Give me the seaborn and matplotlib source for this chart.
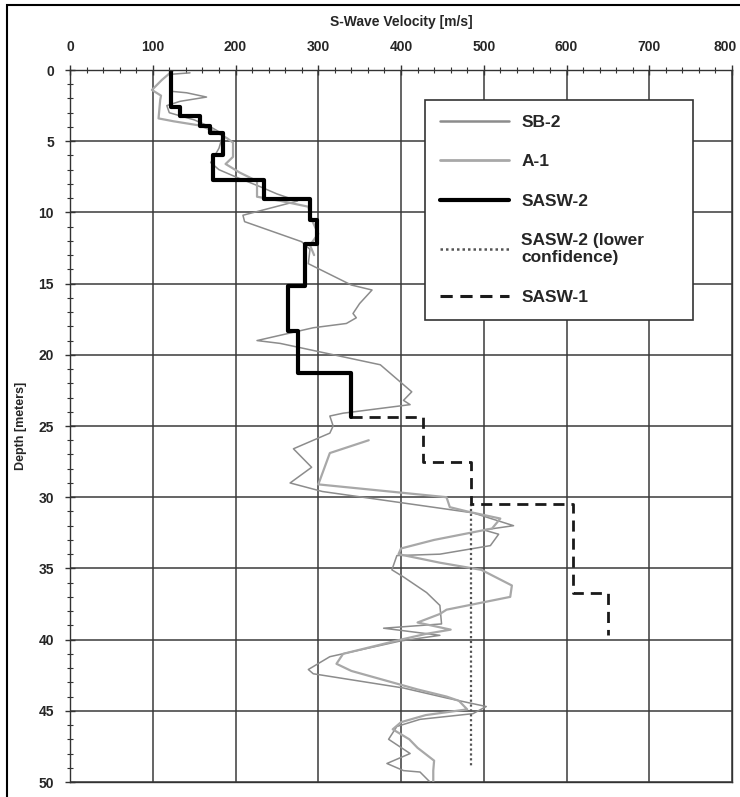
import matplotlib
matplotlib.use("Agg")
import matplotlib.pyplot as plt
from matplotlib.patches import Rectangle
from matplotlib.lines import Line2D
from matplotlib.ticker import MultipleLocator
from matplotlib.transforms import ScaledTranslation
import numpy as np
import pandas as pd
import seaborn as sns

# ---------------- data ----------------
# SB-2 profile (velocity m/s, depth m)
sb2_vel = [145, 122, 123, 141, 165, 133, 117, 120, 150, 170, 185, 180, 170, 180, 200, 230, 250, 275,
           209, 211, 280, 290, 288, 340, 365, 350, 342, 346, 334, 294, 226, 254, 375, 383, 413, 403, 411,
           330, 314, 318, 314, 270, 292, 266, 305, 487, 536, 500, 518, 508, 447, 395, 389, 403, 431,
           447, 449, 379, 447, 399, 314, 288, 294, 403, 455, 503, 487, 423, 395, 385, 411, 383, 403, 423, 435]
sb2_depth = [0.2, 0.3, 1.5, 1.6, 1.9, 2.2, 2.5, 3.0, 3.5, 4.0, 4.5, 5.5, 6.5, 7.0, 7.5, 8.2, 8.7, 9.2,
             10.2, 10.65, 12.06, 12.6, 13.6, 15.1, 15.45, 16.4, 17.1, 17.4, 17.8, 18.1, 19.0, 19.2, 20.7, 21.1, 22.6, 23.2, 23.5,
             24.1, 24.3, 25.0, 25.5, 26.6, 27.9, 29.0, 29.6, 31.1, 32.0, 32.3, 32.6, 33.4, 34.0, 34.1, 35.1, 35.6, 36.7,
             37.6, 38.9, 39.2, 39.7, 40.1, 41.2, 42.1, 42.4, 43.4, 44.1, 44.7, 45.2, 45.6, 46.1, 47.0, 48.0, 48.7, 49.2, 49.3, 50.0]

# A-1 profile, upper piece
a1_upper_vel = [125, 111, 99, 110, 109, 107, 125, 157, 175, 190, 197, 197, 188, 205, 226, 226, 255, 288, 292, 300, 290, 295]
a1_upper_depth = [0.0, 0.7, 1.4, 1.8, 2.1, 3.4, 3.6, 3.9, 4.3, 4.8, 5.1, 6.1, 6.6, 7.2, 7.8, 8.9, 9.2, 9.6, 10.5, 11.5, 12.3, 13.0]
# A-1 profile, lower piece
a1_lower_vel = [361, 314, 302, 300, 455, 459, 480, 520, 510, 440, 400, 397, 447, 497, 534, 532, 455, 447, 420, 460, 430, 400,
                330, 322, 340, 420, 455, 470, 480, 430, 400, 390, 410, 420, 440, 439, 439]
a1_lower_depth = [26.0, 26.9, 28.8, 29.1, 30.0, 30.7, 31.0, 31.5, 32.2, 33.0, 33.6, 34.0, 34.6, 35.1, 36.2, 37.0, 37.9, 38.2, 38.8, 39.3, 39.6, 40.0,
                  41.0, 41.7, 42.2, 43.5, 44.0, 44.3, 44.9, 45.3, 45.8, 46.3, 47.0, 47.6, 48.5, 49.2, 50.0]

# SASW-2 layered model: layer top, layer bottom, velocity
sasw2_top = [0.0, 2.6, 3.2, 3.9, 4.4, 6.0, 7.7, 9.05, 10.5, 12.2, 15.2, 18.3, 21.3]
sasw2_bot = [2.6, 3.2, 3.9, 4.4, 6.0, 7.7, 9.05, 10.5, 12.2, 15.2, 18.3, 21.3, 24.4]
sasw2_vel = [122, 133, 157, 169, 185, 173, 234, 290, 299, 284, 264, 276, 339]

# SASW-2 lower confidence
sasw2lc_top = [30.5]
sasw2lc_bot = [48.9]
sasw2lc_vel = [485]

# SASW-1 layered model (starts where SASW-2 ends)
sasw1_top = [24.4, 27.5, 30.5, 36.7]
sasw1_bot = [27.5, 30.5, 36.7, 39.7]
sasw1_vel = [427, 485, 608, 650]
sasw1_start = (339, 24.4)

x_ticks = [0, 100, 200, 300, 400, 500, 600, 700, 800]
y_ticks = [0, 5, 10, 15, 20, 25, 30, 35, 40, 45, 50]


def steps(tops, bots, vels, start=None):
    xs, ys = [], []
    if start is not None:
        xs.append(start[0]); ys.append(start[1])
    for t, b, v in zip(tops, bots, vels):
        xs += [v, v]
        ys += [t, b]
    return pd.DataFrame({"v": xs, "d": ys})


# ---------------- figure ----------------
sns.set_style("white")
plt.rcParams["font.family"] = ["Liberation Sans", "DejaVu Sans"]
plt.rcParams["font.weight"] = "bold"

fig = plt.figure(figsize=(7.4, 7.97), dpi=100)
ax = fig.add_axes([70 / 740, 1 - 782 / 797, (732 - 70) / 740, (782 - 70) / 797])

ax.xaxis.set_major_locator(MultipleLocator(100))
ax.xaxis.set_minor_locator(MultipleLocator(20))
ax.yaxis.set_major_locator(MultipleLocator(5))
ax.yaxis.set_minor_locator(MultipleLocator(1))
ax.grid(True, which="major", color="#3a3a3a", lw=1.1)
ax.set_axisbelow(True)

df_sb2 = pd.DataFrame({"v": sb2_vel, "d": sb2_depth})
df_a1 = pd.concat([
    pd.DataFrame({"v": a1_upper_vel, "d": a1_upper_depth, "seg": 0}),
    pd.DataFrame({"v": a1_lower_vel, "d": a1_lower_depth, "seg": 1}),
], ignore_index=True)

sns.lineplot(data=df_sb2, x="v", y="d", sort=False, estimator=None, color="#8c8c8c", lw=1.1, ax=ax)
sns.lineplot(data=df_a1, x="v", y="d", units="seg", sort=False, estimator=None, color="#a8a8a8", lw=1.6, ax=ax)
sns.lineplot(data=steps(sasw2lc_top, sasw2lc_bot, sasw2lc_vel), x="v", y="d", sort=False, estimator=None,
             color="#555555", lw=1.6, ls=(0, (1, 1.2)), ax=ax)
sns.lineplot(data=steps(sasw1_top, sasw1_bot, sasw1_vel, sasw1_start), x="v", y="d", sort=False, estimator=None,
             color="#1a1a1a", lw=2.0, ls=(0, (4, 2.5)), ax=ax)
sns.lineplot(data=steps(sasw2_top, sasw2_bot, sasw2_vel), x="v", y="d", sort=False, estimator=None,
             color="black", lw=3.0, ax=ax)

ax.set_ylim(50, 0)
ax.set_xlim(0, 800)

ax.xaxis.tick_top()
ax.xaxis.set_label_position("top")
ax.set_xticks(x_ticks)
ax.set_yticks(y_ticks)
ax.set_xticklabels([str(t) for t in x_ticks], fontsize=10, fontweight="bold")
ax.set_yticklabels([str(t) for t in y_ticks], fontsize=10, fontweight="bold")
ax.tick_params(axis="both", which="major", direction="inout", length=7, width=1, color="#333333", pad=8)
ax.tick_params(axis="both", which="minor", direction="inout", length=4, width=0.8, color="#333333")
ax.tick_params(axis="x", which="both", top=True, bottom=False)
ax.tick_params(axis="y", which="both", left=True, right=False)
ax.set_xlabel("S-Wave Velocity [m/s]", fontsize=10, fontweight="bold", labelpad=10)
ax.set_ylabel("Depth [meters]", fontsize=9, fontweight="bold", labelpad=8)
for s in ax.spines.values():
    s.set_color("#333333")
    s.set_linewidth(1.0)

# keep the last x tick label ("800") inside the picture
last = ax.get_xticklabels()[-1]
last.set_transform(last.get_transform() + ScaledTranslation(-5 / 72, 0, fig.dpi_scale_trans))

handles = [
    Line2D([], [], color="#8c8c8c", lw=1.8),
    Line2D([], [], color="#a8a8a8", lw=2.0),
    Line2D([], [], color="black", lw=3.0),
    Line2D([], [], color="#555555", lw=1.8, ls=(0, (1, 1.2))),
    Line2D([], [], color="#1a1a1a", lw=2.2, ls=(0, (4, 2.5))),
]
labels = ["SB-2", "A-1", "SASW-2", "SASW-2 (lower\nconfidence)", "SASW-1"]
leg = ax.legend(handles, labels, loc="upper left", bbox_to_anchor=(0.536, 0.0, 0.405, 0.958),
                mode="expand",
                frameon=True, fancybox=False, framealpha=1, edgecolor="#333333",
                handlelength=4.0, handletextpad=0.7, labelspacing=1.4, borderpad=0.85,
                borderaxespad=0.0,
                prop={"weight": "bold", "size": 12.5})
leg.get_frame().set_linewidth(1.2)

fig.patches.append(Rectangle((7 / 740, -0.02), 1.0, 1 - 5 / 797 + 0.02, transform=fig.transFigure,
                             fill=False, edgecolor="black", lw=1.5))

fig.savefig("out.png", dpi=100, facecolor="white")
